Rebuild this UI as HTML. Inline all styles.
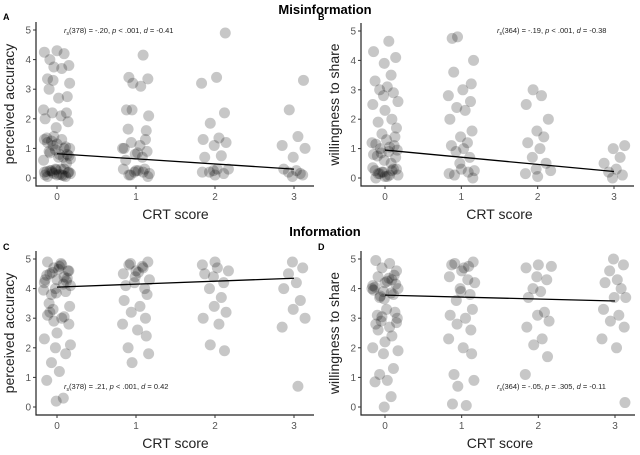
<!DOCTYPE html>
<html><head><meta charset="utf-8"><style>
body{margin:0;background:#fff;font-family:"Liberation Sans",sans-serif}
svg text{font-family:"Liberation Sans",sans-serif}
</style></head><body>
<svg id="c" width="640" height="450">
<text x="325" y="14" text-anchor="middle" font-size="13" font-weight="bold">Misinformation</text>
<text x="325" y="236" text-anchor="middle" font-size="13" font-weight="bold">Information</text>
</svg>
<script>
const jit=[-0.12,0.06,-0.04,0.15,-0.09,0.09,0.0,-0.16,0.17,-0.02,0.11,-0.07,0.03,-0.13,0.08,-0.01,0.14,-0.15,0.05,-0.06,0.12,-0.17,0.02,0.13,-0.1,0.16,-0.05];
const yTicks=[0,1,2,3,4,5];
const xTicks=[0,1,2,3];
const aY=[[0.05,0.1,0.15,0.2,0.25,0.3,0.1,0.2,0.15,0.3,0.05,0.25,0.12,0.22,0.08,0.28,0.18,0.1,0.3,0.2,0.5,0.6,0.7,0.8,0.9,1.0,1.1,1.2,1.3,1.4,0.75,0.85,1.0,1.15,1.3,0.65,0.95,1.05,1.25,0.8,1.35,0.7,1.7,1.9,2.0,2.1,2.2,2.2,2.3,2.7,2.75,3.0,3.2,3.3,3.35,3.7,3.75,3.8,4.0,4.2,4.3,4.25],
[0.05,0.1,0.2,0.25,0.3,0.15,0.2,0.3,0.1,0.25,0.6,0.7,0.8,0.9,1.0,1.1,1.2,1.3,1.0,0.85,1.6,1.65,2.1,2.3,2.3,3.1,3.2,3.35,3.4,4.15],
[0.1,0.2,0.3,0.25,0.15,0.2,0.3,0.7,0.75,1.1,1.2,1.3,1.35,1.85,2.2,3.2,3.4,4.9],
[0.05,0.1,0.2,0.25,0.3,0.15,0.7,1.0,1.1,1.4,2.3,3.3]];
const bY=[[0.0,0.1,0.2,0.3,0.15,0.25,0.05,0.35,0.1,0.2,0.3,0.15,0.05,0.25,0.5,0.6,0.7,0.8,0.9,1.0,1.1,1.2,1.3,1.4,0.75,0.95,0.85,1.15,1.05,1.5,1.7,1.9,2.0,2.3,2.5,2.6,2.8,2.9,3.0,3.1,3.3,3.5,3.9,4.1,4.3,4.65],
[0.0,0.1,0.2,0.3,0.15,0.25,0.5,0.7,0.9,1.0,1.1,1.2,1.4,1.6,2.0,2.3,2.4,2.6,2.8,3.0,3.2,3.6,4.0,4.8,4.75],
[0.05,0.15,0.25,0.3,0.5,0.7,1.0,1.2,1.4,1.6,2.0,2.5,2.8,3.0],
[0.0,0.1,0.2,0.3,0.5,0.7,1.0,1.1]];
const cY=[[4.9,4.8,4.7,4.6,4.5,4.4,4.3,4.2,4.1,4.0,3.9,3.8,4.75,4.45,4.15,3.85,4.6,4.3,4.85,4.55,4.25,3.95,4.65,4.35,3.5,3.4,3.3,3.1,3.0,2.9,2.8,3.2,3.05,2.5,2.3,2.1,2.0,1.8,1.5,1.2,0.9,0.3,0.2],
[4.9,4.8,4.7,4.6,4.5,4.3,4.2,4.0,4.85,4.55,4.1,4.75,4.4,3.8,3.6,3.4,3.2,3.0,2.8,2.6,2.4,2.0,1.8,1.5],
[4.9,4.8,4.6,4.4,4.2,4.0,4.7,4.5,3.7,3.4,3.2,3.0,2.8,2.1,1.9],
[4.9,4.7,4.5,4.2,4.0,3.6,3.3,3.0,2.7,0.7]];
const dY=[[4.95,4.85,4.7,4.6,4.4,4.3,4.2,4.1,4.0,3.9,3.8,3.7,4.25,4.05,3.85,3.65,4.15,3.95,4.35,3.75,4.45,4.0,3.3,3.2,3.1,3.0,2.9,2.8,2.7,3.05,2.85,2.6,2.4,2.2,2.0,1.9,1.8,1.3,1.1,0.9,0.85,0.35,0.0],
[4.9,4.85,4.75,4.6,4.4,4.2,4.0,3.8,3.6,4.7,4.8,4.3,3.9,3.3,3.1,3.0,2.8,2.6,2.3,2.0,1.8,1.1,0.9,0.7,0.1,0.05],
[4.8,4.7,4.75,4.4,4.3,4.0,3.9,3.7,3.2,3.1,2.9,2.7,2.3,2.1,1.7,1.1],
[5.0,4.8,4.6,4.3,4.2,4.0,3.7,3.7,3.3,3.1,2.9,2.7,2.3,2.0,0.15]];
const lineA=[0.82,0.30], lineB=[0.95,0.22], lineC=[4.05,4.35], lineD=[3.78,3.58];
const svg=document.getElementById('c');
const NS='http://www.w3.org/2000/svg';
function mk(t,a){const e=document.createElementNS(NS,t);for(const k in a)e.setAttribute(k,a[k]);svg.appendChild(e);return e;}
function panel(p){
  const X=v=>p.x0+(p.x3-p.x0)*v/3, Y=v=>p.y0-(p.y0-p.y5)*v/5;
  const lab=mk('text',{x:p.lx,y:p.ly,'font-size':9,'font-weight':'bold'});lab.textContent=p.letter;
  
  
  p.ys.forEach((arr,c)=>arr.forEach((v,i)=>{
    const cc=mk('circle',{cx:X(c+jit[(i+c*3)%jit.length]),cy:Y(v),r:5.5,fill:'rgba(0,0,0,0.22)'});
    
    
  }));
  const ln=mk('line',{x1:X(0),y1:Y(p.line[0]),x2:X(3),y2:Y(p.line[1]),stroke:'#000','stroke-width':1.3});
  
  
  const ax=mk('path',{d:`M${p.ax} ${p.y5-8}V${p.xy}H${p.x3+20}`,fill:'none',stroke:'#222','stroke-width':1.2});
  
  
  yTicks.forEach(t=>{
    mk('line',{x1:p.ax-3,x2:p.ax,y1:Y(t),y2:Y(t),stroke:'#333'});
    const tx=mk('text',{x:p.ax-5,y:Y(t)+3.5,'text-anchor':'end','font-size':10,fill:'#555'});tx.textContent=t;
    
    
  });
  xTicks.forEach(t=>{
    mk('line',{x1:X(t),x2:X(t),y1:p.xy,y2:p.xy+3,stroke:'#333'});
    const tx=mk('text',{x:X(t),y:p.xy+14,'text-anchor':'middle','font-size':10,fill:'#555'});tx.textContent=t;
    
    
  });
  const xt=mk('text',{x:(p.x0+p.x3)/2,y:p.xy+33,'text-anchor':'middle','font-size':14,fill:'#222'});xt.textContent='CRT score';
  
  
  const cy=(p.y0+p.y5)/2;
  const yt=mk('text',{x:p.ax-22,y:cy,'text-anchor':'middle','font-size':14,fill:'#222',transform:`rotate(-90 ${p.ax-22} ${cy})`});yt.textContent=p.ylab;
  
  
  const an=mk('text',{x:p.annx,y:p.anny,'font-size':7.5,fill:'#222'});
  an.innerHTML=`<tspan font-style="italic">r</tspan><tspan font-size="5" dy="2">s</tspan><tspan dy="-2">(${p.df}) = ${p.r}, </tspan><tspan font-style="italic">p</tspan> ${p.p}, <tspan font-style="italic">d</tspan> = ${p.d}`;
  
  
}
panel({letter:'A',lx:3,ly:20,ax:36,x0:57,x3:294,y0:178,y5:30,xy:186,ys:aY,line:lineA,ylab:'perceived accuracy',annx:64,anny:33,df:378,r:'-.20',p:'< .001',d:'-0.41'});
panel({letter:'B',lx:318,ly:20,ax:361,x0:385,x3:614,y0:178,y5:31,xy:186,ys:bY,line:lineB,ylab:'willingness to share',annx:497,anny:33,df:364,r:'-.19',p:'< .001',d:'-0.38'});
panel({letter:'C',lx:3,ly:250,ax:36,x0:57,x3:294,y0:407,y5:259,xy:415,ys:cY,line:lineC,ylab:'perceived accuracy',annx:64,anny:389,df:378,r:'.21',p:'< .001',d:'0.42'});
panel({letter:'D',lx:318,ly:250,ax:361,x0:385,x3:615,y0:407,y5:259,xy:415,ys:dY,line:lineD,ylab:'willingness to share',annx:497,anny:389,df:364,r:'-.05',p:'= .305',d:'-0.11'});
</script>
</body></html>
